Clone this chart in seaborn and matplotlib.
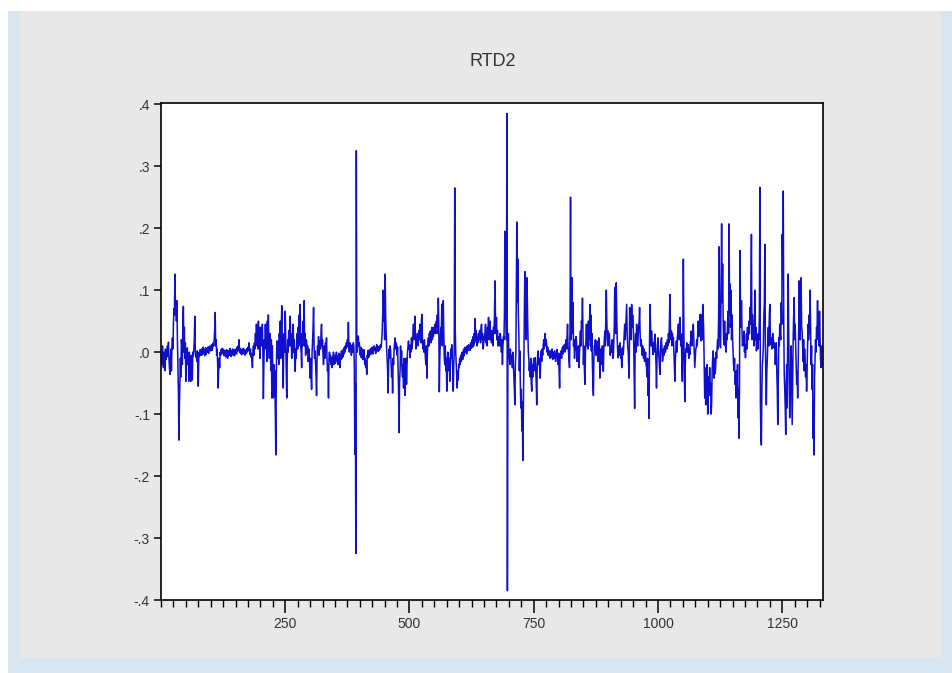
import numpy as np
import pandas as pd
import matplotlib
matplotlib.use("Agg")
import matplotlib.pyplot as plt
from matplotlib.patches import Rectangle
from matplotlib.ticker import MultipleLocator, FixedLocator
import seaborn as sns

# RTD2 series, observations 1..1332, values in thousandths
seg_a = [  # obs 1-220
    -5, -20, 10, -15, -25, 0, -10, -30, 5, -12,
    4, -8, 10, -5, 16, -10, -25, -36, -10, 5,
    -30, 10, 23, 5, 45, 70, 60, 126, 75, 80,
    50, 83, 20, -20, -60, -142, -90, -50, -10, -40,
    20, 10, -20, 50, 74, 0, 40, -10, 15, -47,
    -10, 5, 7, -20, -5, -47, 0, -40, -8, -47,
    -5, -12, -45, 0, -6, 4, 20, 58, 5, -8,
    -3, -15, 2, -20, -55, -10, 0, -6, 4, -4,
    3, -5, 6, -2, 8, -3, 5, -6, 2, 7,
    -4, 6, 0, 8, 3, -2, 9, 4, 10, 2,
    6, 12, 3, 8, 15, 10, 20, 35, 64, 10,
    20, -5, 5, -20, -58, -30, -10, -25, 0, -5,
    4, -3, 6, -2, 5, 0, -6, 3, -4, 2,
    -8, 4, -3, -10, 2, -6, 3, -4, 6, -2,
    -7, 2, -3, 5, -5, 0, 4, -6, 3, -2,
    5, -3, 8, 2, 10, 4, 20, 0, 6, -2,
    3, -4, 5, 0, -3, 6, -1, 4, -5, 2,
    3, -2, 6, 1, 8, 4, 15, 2, -4, 5,
    -8, -2, -15, -25, 0, 10, -5, 15, 5, 30,
    10, 45, 20, 30, 5, 50, 25, 20, -10, 40,
    15, 10, 35, 45, 0, -75, -20, 20, 5, 45,
    10, 30, -15, 50, 20, 60, 15, -10, 30, 10,
]
seg_b = [  # obs 221-440
    -30, 20, -74, 10, -40, -74, -20, -70, -30, -100,
    -166, -40, 18, -10, 10, 18, -20, 30, 10, 50,
    -10, 40, 75, 20, -20, -58, 10, 30, 0, 66,
    20, -30, -74, -10, 20, 0, 35, 10, 30, 58,
    10, 30, -10, 25, 15, 45, 0, 20, -15, -31,
    5, -10, 18, 30, 5, 40, 10, 60, 20, 77,
    10, 0, -25, 30, 10, 50, 20, 83, 10, 30,
    -5, 20, 18, 0, 10, -15, -9, 5, -20, -42,
    -10, -30, -60, 0, 20, 40, 72, 10, -10, 2,
    -20, -40, -70, -10, 10, 0, 25, -5, 10, 18,
    5, 30, 45, 10, 20, -5, -20, 0, 10, -10,
    15, 5, 23, -10, -30, -20, -74, -10, 0, -15,
    -5, -20, -10, -25, -8, -15, 0, -20, -12, -5,
    -18, -10, 0, -14, -6, -20, -8, -2, -15, -25,
    -5, -12, 2, -10, 0, -8, 5, -3, 8, 0,
    10, 5, 15, 8, 20, 12, 48, 10, 0, 15,
    5, 10, -5, 2, 12, 0, 15, 10, -20, -165,
    -50, -325, 325, 10, 0, 20, 26, 10, 15, 2,
    -5, 8, -9, 0, 5, -12, -9, 4, -6, -20,
    -10, -25, -15, -36, -5, -10, 3, -8, 2, -3,
    5, -4, 6, 0, 8, 2, -3, 5, 10, 3,
    7, -2, 6, 12, 4, 9, 1, 8, 3, 10,
]
seg_c = [  # obs 441-660
    5, 12, 8, 20, 30, 60, 100, 50, 80, 20,
    126, 60, 30, 7, -10, -30, -66, -20, 5, -10,
    10, 2, -20, -40, -20, -66, -10, -20, 5, 15,
    23, 5, 15, 12, -5, 8, -30, -60, -130, -50,
    -30, 10, -20, 2, -30, -40, -20, -58, -10, -20,
    -70, -30, -10, -52, -20, 0, 10, 18, 5, 12,
    -9, 10, 0, 23, 5, 15, 30, 45, 20, 35,
    58, 25, 5, 12, 20, 30, 10, 18, 35, 20,
    45, 30, 15, 50, 61, 20, 5, 12, 0, 20,
    5, -10, -20, 10, -42, 0, 15, 23, 10, 30,
    20, 34, 15, 30, 40, 20, 34, 25, 40, 30,
    45, 35, 30, 50, 40, 60, 30, 87, 40, -64,
    -10, 20, 40, 30, 77, 10, 50, 83, 30, -10,
    -20, 10, -30, -10, -63, -20, 0, -9, -30, -10,
    -47, -20, 5, -10, 12, -10, -30, -63, -20, 0,
    265, 40, 0, -20, -40, -58, -30, -45, -20, -25,
    -10, -20, -5, -15, -9, 0, -12, -3, 5, -6,
    2, 8, 0, 5, -3, 10, 2, 7, 12, 4,
    9, 3, 15, 6, 12, 20, 8, 25, 10, 30,
    15, 54, 20, 35, 29, 10, 25, 15, 30, 20,
    35, 29, 15, 40, 45, 20, 30, 5, 12, 25,
    20, 34, 45, 15, 30, 10, 40, 25, 56, 20,
]
seg_d = [  # obs 661-880
    35, 50, 20, 30, 15, 35, 25, 10, 40, 30,
    60, 115, 56, 30, 56, 20, 35, 10, 12, 25,
    10, 30, 29, 15, 0, 20, -20, 10, 25, 20,
    60, 195, 80, 120, 20, 385, -385, 10, 30, -7,
    -7, -20, 5, -15, -5, -9, -25, 0, -20, -40,
    -60, -85, -20, 0, 100, 210, 80, 150, 60, 30,
    -30, 2, -50, -90, -60, -127, -80, -175, -100, -30,
    50, 130, 80, 50, 20, 120, 90, 40, 2, -10,
    -30, -20, -40, -10, -50, -63, -20, -40, -25, -10,
    -30, -15, -9, -30, -50, -85, -20, -5, 2, -20,
    -10, -30, -42, -10, 2, -15, 5, -5, 10, 20,
    5, 15, 30, 10, 20, 12, 0, 8, -5, 3,
    -6, 0, -10, 2, -8, -4, 5, -12, 0, -5,
    -10, 2, -8, -15, -3, -6, 4, -10, -20, -2,
    -30, -58, -10, 0, 2, -10, 5, 8, -3, 10,
    4, 12, 0, 15, 20, 5, 25, 45, 10, 0,
    -15, -25, 40, 250, 20, 60, 120, 30, 80, 10,
    20, -10, 2, 10, 25, 18, -15, 5, -10, 10,
    -25, 0, 20, 34, 10, 50, 40, 87, 30, -20,
    10, -30, -52, 0, 20, 45, 10, 30, 5, 50,
    20, 40, 77, 10, 60, 2, 30, -20, -50, -70,
    -10, 10, 7, 20, -5, 10, 18, 0, -15, -9,
]
seg_e = [  # obs 881-1100
    23, 10, -42, -10, 5, 2, -20, 10, -15, -31,
    5, 20, 34, 10, 60, 100, 50, 20, 10, 34,
    15, 30, 12, -5, 10, 0, 7, 20, -10, -9,
    15, 40, 104, 50, 30, 112, 60, 20, 0, -9,
    10, -5, 7, 15, -10, 5, -25, -10, 8, -4,
    10, 30, 45, 20, 40, 60, 77, 30, 10, 2,
    -20, -42, 72, 30, 50, 20, 77, 40, 60, 45,
    20, -30, -91, 10, 30, 0, 45, 20, 10, 23,
    40, 50, 72, 30, 10, 20, 12, -5, 10, 2,
    -10, 5, -15, -9, 0, -20, -25, -40, -10, -70,
    -50, -107, 20, 77, 40, 10, 34, 20, 5, -4,
    15, 0, 20, 29, 10, -20, -58, -10, 10, 23,
    5, -10, -25, -36, 0, 15, 23, 5, -15, -9,
    5, -5, 10, 7, 0, 15, 12, 5, 20, 10,
    30, 15, 50, 93, 40, 20, 34, 10, 30, 15,
    23, 0, -20, -47, -10, 5, 18, 0, 25, 30,
    45, 20, 40, 56, 30, 10, 29, -20, -47, 20,
    150, 40, -40, -80, -20, 5, 2, 15, 0, 10,
    12, -10, 5, -4, 15, 20, 34, 10, 30, 25,
    45, 20, 0, -25, -10, 5, 7, 20, 10, 30,
    50, 25, 40, 50, 61, 34, 18, 60, 20, 77,
    61, 30, -20, -74, -40, -85, -25, -74, -20, -100,
]
seg_f = [  # obs 1101-1332
    -85, -40, -60, -25, -70, -50, -100, -80, -30, -10,
    2, -20, -42, -10, -35, -25, 0, -10, 7, 20,
    5, 60, 170, 40, 10, 7, 100, 207, 80, 142,
    60, 20, 12, 50, 10, 18, 0, 30, 20, 50,
    66, 30, 207, 60, 110, 40, 100, 20, 60, 23,
    0, -20, -30, -10, -52, -40, -74, -30, -60, -20,
    -106, -60, -139, -50, 164, 60, 40, 83, 34, 10,
    20, 12, 34, 0, 12, -9, 10, 29, 5, 40,
    20, 29, 50, 30, 72, 45, 100, 190, 20, 60,
    30, 45, 10, 60, 100, 20, 40, 2, 10, 29,
    5, 29, 20, 60, 266, -80, -139, -150, -60, -20,
    -9, 10, 60, 80, 174, 20, -40, -85, -30, -9,
    20, 40, 10, 60, 77, 30, 12, 23, 5, 12,
    30, 23, 7, 15, 12, -20, 2, 15, -30, -60,
    -117, -40, 23, 10, 45, 30, 20, 80, 45, 190,
    120, 260, 50, -36, -60, -90, -133, -50, -20, -90,
    40, 126, 30, -40, -106, -50, -31, 10, -60, -117,
    -40, 23, 60, 88, 20, 45, 10, -20, -52, -30,
    -74, -20, 30, 115, 60, 20, 70, 120, 40, 34,
    10, -15, 20, -30, 5, -15, -40, -20, -63, -30,
    10, 45, 20, 60, 30, 100, 40, -20, 10, -60,
    -20, -139, -80, -166, -40, -9, 20, 0, 40, 30,
    83, 20, 40, 10, 66, 30, -10, -25, 10, -20,
    -15, -20,
]

y_ticks = [-0.4, -0.3, -0.2, -0.1, 0.0, 0.1, 0.2, 0.3, 0.4]
y_tick_labels = ["-.4", "-.3", "-.2", "-.1", ".0", ".1", ".2", ".3", ".4"]
x_ticks = [250, 500, 750, 1000, 1250]
x_tick_labels = ["250", "500", "750", "1000", "1250"]

values = np.array(seg_a + seg_b + seg_c + seg_d + seg_e + seg_f) / 1000.0
df = pd.DataFrame({"obs": np.arange(1, len(values) + 1), "RTD2": values})

sns.set_theme(style="white")
plt.rcParams["font.family"] = ["Liberation Sans", "DejaVu Sans"]

W, H = 952, 673
fig = plt.figure(figsize=(W / 100, H / 100), dpi=100)
fig.patch.set_facecolor("white")

# window frame: pale blue border around a light grey panel
fig.add_artist(Rectangle((8 / W, 0), 1 - 8 / W, (H - 11) / H,
                         transform=fig.transFigure, facecolor="#d9e5ef",
                         edgecolor="none", zorder=-3))
fig.add_artist(Rectangle((20 / W, (H - 658) / H), (941 - 20) / W, (658 - 11) / H,
                         transform=fig.transFigure, facecolor="#e8e8e8",
                         edgecolor="none", zorder=-2))

ax = fig.add_axes([161 / W, (H - 600) / H, (823 - 161) / W, (600 - 103) / H])
ax.set_facecolor("white")

sns.lineplot(data=df, x="obs", y="RTD2", ax=ax, color="#0f0fcc",
             linewidth=1.1, estimator=None, legend=False)

ax.set_xlim(0, 1332)
ax.set_ylim(-0.4, 0.402)
ax.set_xlabel("")
ax.set_ylabel("")

ax.xaxis.set_major_locator(FixedLocator(x_ticks))
ax.set_xticklabels(x_tick_labels)
ax.xaxis.set_minor_locator(MultipleLocator(25))
ax.yaxis.set_major_locator(FixedLocator(y_ticks))
ax.set_yticklabels(y_tick_labels)

ax.tick_params(axis="x", which="major", direction="out", length=9, width=1.1,
               color="black", labelsize=10, labelcolor="#333333", pad=3,
               bottom=True)
ax.tick_params(axis="x", which="minor", direction="out", length=5, width=1.0,
               color="black", bottom=True)
ax.tick_params(axis="y", which="major", direction="out", length=5, width=1.1,
               color="black", labelsize=10, labelcolor="#333333", pad=3,
               left=True)

for side in ["left", "right", "top", "bottom"]:
    ax.spines[side].set_visible(True)
    ax.spines[side].set_color("black")
    ax.spines[side].set_linewidth(1.2)

fig.text(493 / W, 1 - 62 / H, "RTD2", ha="center", va="center",
         fontsize=13, color="#333333")

fig.savefig("out.png", dpi=100, facecolor=fig.get_facecolor())
